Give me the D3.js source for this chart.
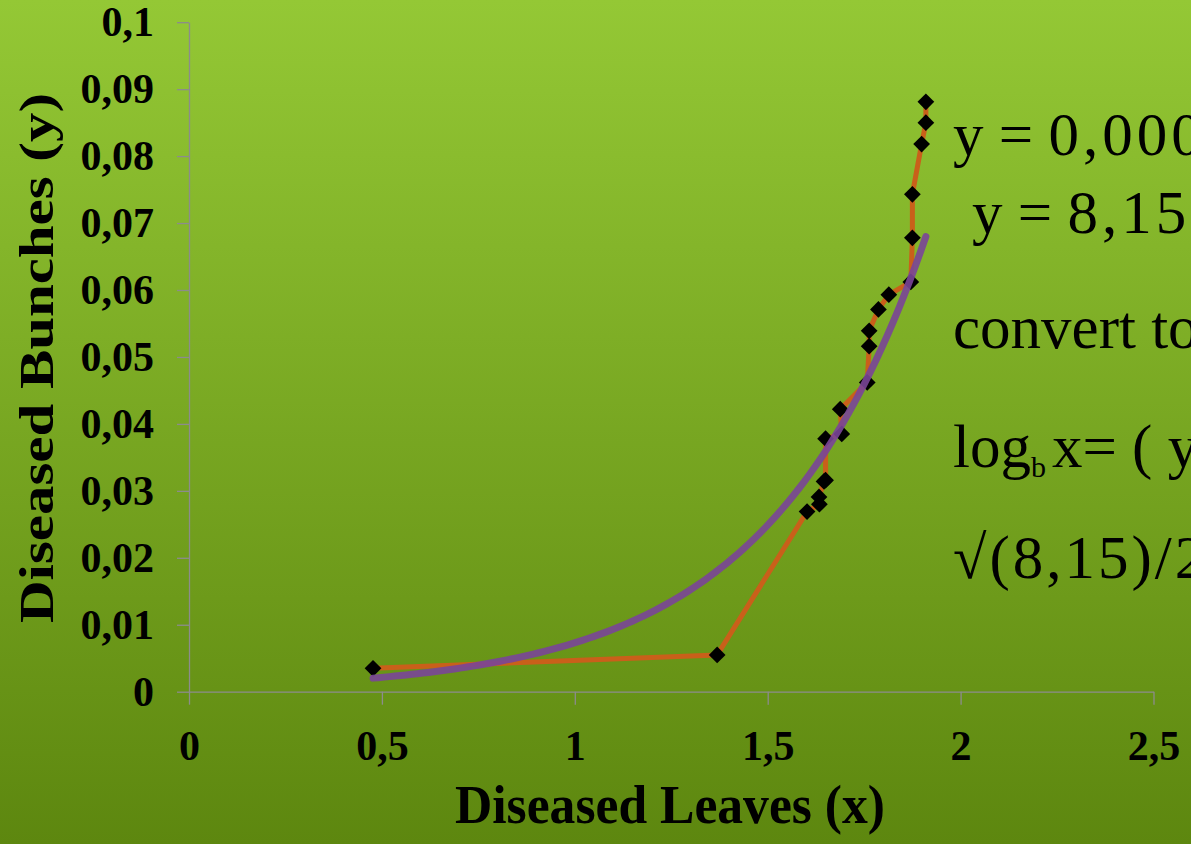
<!DOCTYPE html>
<html>
<head>
<meta charset="utf-8">
<script src="https://cdn.jsdelivr.net/npm/d3@7"></script>
<style>
  html, body { margin: 0; padding: 0; overflow: hidden; }
  svg { display: block; }
</style>
</head>
<body>
<svg id="chart" width="1191" height="844"></svg>
<script>
// ---- data ----
const leavesX  = [0.477, 1.369, 1.602, 1.634, 1.633, 1.646, 1.650, 1.650, 1.692, 1.688, 1.758,
                  1.763, 1.763, 1.787, 1.814, 1.871, 1.875, 1.875, 1.899, 1.910, 1.910];
const bunchesY = [0.0035, 0.0055, 0.0269, 0.0280, 0.0291, 0.0314, 0.0316, 0.0378, 0.0385, 0.0422, 0.0462,
                  0.0516, 0.0539, 0.0571, 0.0593, 0.0612, 0.0678, 0.0743, 0.0818, 0.0850, 0.0881];
const xTicks = [0, 0.5, 1, 1.5, 2, 2.5];
const xTickLabels = ["0", "0,5", "1", "1,5", "2", "2,5"];
const yTicks = [0, 0.01, 0.02, 0.03, 0.04, 0.05, 0.06, 0.07, 0.08, 0.09, 0.1];
const yTickLabels = ["0", "0,01", "0,02", "0,03", "0,04", "0,05", "0,06", "0,07", "0,08", "0,09", "0,1"];
const xTitle = "Diseased Leaves (x)";
const yTitle = "Diseased Bunches (y)";

const W = 1191, H = 844;
const svg = d3.select("#chart");

// background gradient
const defs = svg.append("defs");
const grad = defs.append("linearGradient").attr("id", "bg")
  .attr("x1", 0).attr("y1", 0).attr("x2", 0).attr("y2", 1);
grad.append("stop").attr("offset", "0%").attr("stop-color", "#94c835");
grad.append("stop").attr("offset", "100%").attr("stop-color", "#5d870f");
svg.append("rect").attr("width", W).attr("height", H).attr("fill", "url(#bg)");

const x = d3.scaleLinear().domain([0, 2.5]).range([189, 1153.5]);
const y = d3.scaleLinear().domain([0, 0.1]).range([691.7, 22.2]);

const labelFont = "'Liberation Serif', 'Times New Roman', serif";

// axes
const xAxis = d3.axisBottom(x).tickValues(xTicks)
  .tickFormat((d, i) => xTickLabels[i]).tickSize(13).tickSizeOuter(0).tickPadding(25);
const yAxis = d3.axisLeft(y).tickValues(yTicks)
  .tickFormat((d, i) => yTickLabels[i]).tickSize(12).tickSizeOuter(0).tickPadding(23);

const gx = svg.append("g").attr("transform", `translate(0,${y(0)})`).call(xAxis);
const gy = svg.append("g").attr("transform", `translate(${x(0)},0)`).call(yAxis);
[gx, gy].forEach(g => {
  g.select(".domain").attr("stroke", "#8c8c8c").attr("stroke-width", 1.3);
  g.selectAll(".tick line").attr("stroke", "#8c8c8c").attr("stroke-width", 1.3);
  g.selectAll(".tick text").attr("fill", "#000").attr("font-family", labelFont)
    .attr("font-weight", "bold").attr("font-size", 42);
});

// axis titles
svg.append("text").attr("x", 670).attr("y", 823).attr("text-anchor", "middle")
  .attr("font-family", labelFont).attr("font-weight", "bold").attr("font-size", 54)
  .attr("textLength", 430).attr("lengthAdjust", "spacingAndGlyphs")
  .text(xTitle);
svg.append("text").attr("transform", "translate(53,358) rotate(-90)").attr("text-anchor", "middle")
  .attr("font-family", labelFont).attr("font-weight", "bold").attr("font-size", 49)
  .attr("textLength", 530).attr("lengthAdjust", "spacingAndGlyphs")
  .text(yTitle);

// data series line
const pts = leavesX.map((v, i) => [v, bunchesY[i]]);
svg.append("path").datum(pts)
  .attr("fill", "none").attr("stroke", "#c9601a").attr("stroke-width", 5)
  .attr("stroke-linejoin", "round")
  .attr("d", d3.line().x(d => x(d[0])).y(d => y(d[1])));

// markers (diamonds)
const diamond = d3.symbol().type(d3.symbolSquare).size(140);
svg.append("g").selectAll("path").data(pts).join("path")
  .attr("d", diamond)
  .attr("transform", d => `translate(${x(d[0])},${y(d[1])}) rotate(45)`)
  .attr("fill", "#000");

// exponential trendline: least-squares fit of ln(y) on x (as a spreadsheet does)
const mx = d3.mean(pts, d => d[0]);
const ml = d3.mean(pts, d => Math.log(d[1]));
const k = d3.sum(pts, d => (d[0] - mx) * (Math.log(d[1]) - ml)) / d3.sum(pts, d => (d[0] - mx) ** 2);
const a = Math.exp(ml - k * mx);
const [xmin, xmax] = d3.extent(leavesX);
const trend = d3.range(0, 101).map(i => {
  const xv = xmin + (xmax - xmin) * i / 100;
  return [xv, a * Math.exp(k * xv)];
});
svg.append("path").datum(trend)
  .attr("fill", "none").attr("stroke", "#7a4598").attr("stroke-opacity", 0.9)
  .attr("stroke-width", 7).attr("stroke-linecap", "round")
  .attr("d", d3.line().x(d => x(d[0])).y(d => y(d[1])));

// right-hand text (runs off the right edge, as in the reference)
const rf = "'Liberation Serif', 'Times New Roman', serif";
const rt = svg.append("g").attr("font-family", rf).attr("font-size", 61).attr("fill", "#000");
const l1 = rt.append("text").attr("x", 953).attr("y", 155);
l1.append("tspan").text("y = ");
l1.append("tspan").attr("letter-spacing", 4).text("0,0006e");
l1.append("tspan").attr("font-size", 34).attr("dy", -22).text("2,457x");
const l2 = rt.append("text").attr("x", 972).attr("y", 233);
l2.append("tspan").text("y = ");
l2.append("tspan").attr("letter-spacing", 4).text("8,150");
rt.append("text").attr("x", 953).attr("y", 348).text("convert to");
const l4 = rt.append("text").attr("x", 953).attr("y", 467);
l4.append("tspan").text("log");
l4.append("tspan").attr("font-size", 30).attr("dy", 10).text("b");
l4.append("tspan").attr("dy", -10).attr("dx", 6).text("x= ( y");
const l5 = rt.append("text").attr("x", 953).attr("y", 578);
l5.append("tspan").attr("letter-spacing", 3).text("√(8,15)/2");
</script>
</body>
</html>
